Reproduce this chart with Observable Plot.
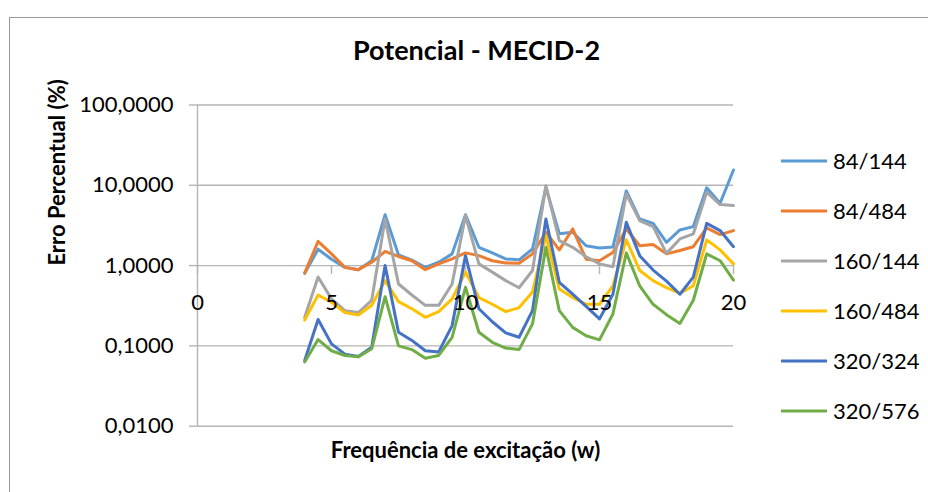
<!DOCTYPE html>
<html>
<head>
<meta charset="utf-8">
<script src="https://cdn.jsdelivr.net/npm/d3@7"></script>
<script src="https://cdn.jsdelivr.net/npm/@observablehq/plot@0.6"></script>
<style>
  body { margin: 0; background: #fff; }
  #wrap { position: relative; width: 928px; height: 492px; overflow: hidden; font-family: Lato, "Open Sans", sans-serif; background: #fff; }
  #border { position: absolute; left: 9px; top: 17px; width: 1000px; height: 600px; border: 1px solid #9a9a9a; box-sizing: border-box; }
  #chart { position: absolute; left: 0; top: 0; }
  #legend { position: absolute; left: 780px; top: 136px; }
  .item { height: 50px; display: flex; align-items: center; }
  .item svg { display: block; }
  .item span { font-size: 22px; color: #000; margin-left: 5px; line-height: 1; }
</style>
</head>
<body>
<div id="wrap">
  <div id="border"></div>
  <div id="chart"></div>
  <div id="legend"></div>
</div>
<script>
const freq = [4, 4.5, 5, 5.5, 6, 6.5, 7, 7.5, 8, 8.5, 9, 9.5, 10, 10.5, 11, 11.5, 12, 12.5, 13, 13.5, 14, 14.5, 15, 15.5, 16, 16.5, 17, 17.5, 18, 18.5, 19, 19.5, 20];

const s84_144  = [0.80, 1.60, 1.20, 0.95, 0.89, 1.15, 4.30, 1.36, 1.17, 0.95, 1.10, 1.40, 4.30, 1.69, 1.44, 1.21, 1.18, 1.61, 9.40, 2.50, 2.60, 1.77, 1.66, 1.70, 8.50, 3.80, 3.36, 1.95, 2.78, 3.06, 9.30, 5.97, 15.5];
const s84_484  = [0.81, 2.00, 1.40, 0.95, 0.89, 1.10, 1.50, 1.30, 1.15, 0.89, 1.05, 1.21, 1.44, 1.33, 1.15, 1.08, 1.07, 1.40, 2.60, 1.57, 2.86, 1.20, 1.15, 1.46, 2.86, 1.77, 1.83, 1.40, 1.54, 1.72, 2.95, 2.43, 2.73];
const s160_144 = [0.227, 0.72, 0.385, 0.275, 0.26, 0.37, 3.80, 0.59, 0.43, 0.32, 0.32, 0.59, 4.20, 1.05, 0.83, 0.65, 0.53, 0.87, 9.90, 2.05, 1.69, 1.29, 1.05, 0.97, 7.80, 3.64, 3.06, 1.42, 2.15, 2.48, 8.20, 5.75, 5.60];
const s160_484 = [0.21, 0.43, 0.35, 0.26, 0.243, 0.32, 0.65, 0.356, 0.29, 0.227, 0.267, 0.385, 0.83, 0.40, 0.33, 0.267, 0.30, 0.47, 2.36, 0.51, 0.40, 0.33, 0.33, 0.56, 2.10, 0.87, 0.65, 0.53, 0.45, 0.56, 2.09, 1.57, 1.05];
const s320_324 = [0.066, 0.213, 0.106, 0.079, 0.074, 0.096, 1.00, 0.148, 0.117, 0.087, 0.084, 0.179, 1.33, 0.29, 0.20, 0.145, 0.128, 0.275, 3.80, 0.62, 0.44, 0.31, 0.217, 0.44, 3.46, 1.33, 0.88, 0.64, 0.44, 0.72, 3.36, 2.73, 1.72];
const s320_576 = [0.063, 0.12, 0.087, 0.076, 0.073, 0.092, 0.41, 0.10, 0.09, 0.07, 0.076, 0.128, 0.537, 0.148, 0.111, 0.094, 0.09, 0.188, 1.69, 0.275, 0.17, 0.134, 0.119, 0.25, 1.44, 0.56, 0.33, 0.245, 0.19, 0.37, 1.40, 1.15, 0.66];

const seriesNames = ["84/144", "84/484", "160/144", "160/484", "320/324", "320/576"];
const seriesValues = [s84_144, s84_484, s160_144, s160_484, s320_324, s320_576];
const seriesColors = ["#5B9BD5", "#ED7D31", "#A5A5A5", "#FFC000", "#4472C4", "#70AD47"];

const yTicks = [0.01, 0.1, 1, 10, 100];
const xTicks = [0, 5, 10, 15, 20];

const titleText = "Potencial - MECID-2";
const xTitle = "Frequência de excitação (w)";
const yTitle = "Erro Percentual (%)";

const gridColor = "#b5b5b5";
const fmtY = d => d.toFixed(4).replace(".", ",");

const rows = [];
seriesNames.forEach((name, k) => {
  freq.forEach((f, i) => rows.push({series: name, x: f, y: seriesValues[k][i]}));
});

const lineMarks = seriesNames.map((name, k) =>
  Plot.line(rows.filter(r => r.series === name), {
    x: "x", y: "y", stroke: seriesColors[k], strokeWidth: 3, strokeLinejoin: "round", strokeLinecap: "round"
  })
);

const chart = Plot.plot({
  width: 928,
  height: 492,
  marginLeft: 197,
  marginRight: 195,
  marginTop: 104.5,
  marginBottom: 66.3,
  style: {fontFamily: "Lato, 'Open Sans', sans-serif", background: "transparent", overflow: "visible"},
  x: {domain: [0, 20], axis: null},
  y: {type: "log", domain: [0.01, 100], axis: null},
  marks: [
    Plot.ruleY(yTicks, {stroke: gridColor, strokeWidth: 1.4}),
    Plot.ruleX([0], {stroke: gridColor, strokeWidth: 1.4}),
    Plot.axisY(yTicks, {tickFormat: fmtY, tickSize: 8, tickPadding: 16, fontSize: 22, stroke: gridColor, strokeWidth: 1.4, fill: "#000", label: null}),
    Plot.ruleX(xTicks, {x: d => d, y1: 1, y2: 1, insetBottom: -9, stroke: gridColor, strokeWidth: 1.4}),
    ...lineMarks,
    Plot.text(xTicks, {x: d => d, y: 1, dy: 37, text: d => String(d), fontSize: 22, fill: "#000"}),
    Plot.text([titleText], {frameAnchor: "top", dx: 11, dy: -53.5, text: d => d, fontSize: 27, fontWeight: "bold", fill: "#000", lineAnchor: "middle"}),
    Plot.text([xTitle], {frameAnchor: "bottom", dy: 24.5, text: d => d, fontSize: 22, fontWeight: "bold", fill: "#000", lineAnchor: "middle"}),
    Plot.text([yTitle], {frameAnchor: "left", dx: -140, text: d => d, fontSize: 22, fontWeight: "bold", fill: "#000", rotate: -90, lineAnchor: "middle"})
  ]
});
document.getElementById("chart").appendChild(chart);

const legend = document.getElementById("legend");
seriesNames.forEach((name, k) => {
  const item = document.createElement("div");
  item.className = "item";
  item.innerHTML = `<svg width="48" height="6"><line x1="1" y1="3" x2="47" y2="3" stroke="${seriesColors[k]}" stroke-width="3"/></svg><span>${name}</span>`;
  legend.appendChild(item);
});
</script>
</body>
</html>
